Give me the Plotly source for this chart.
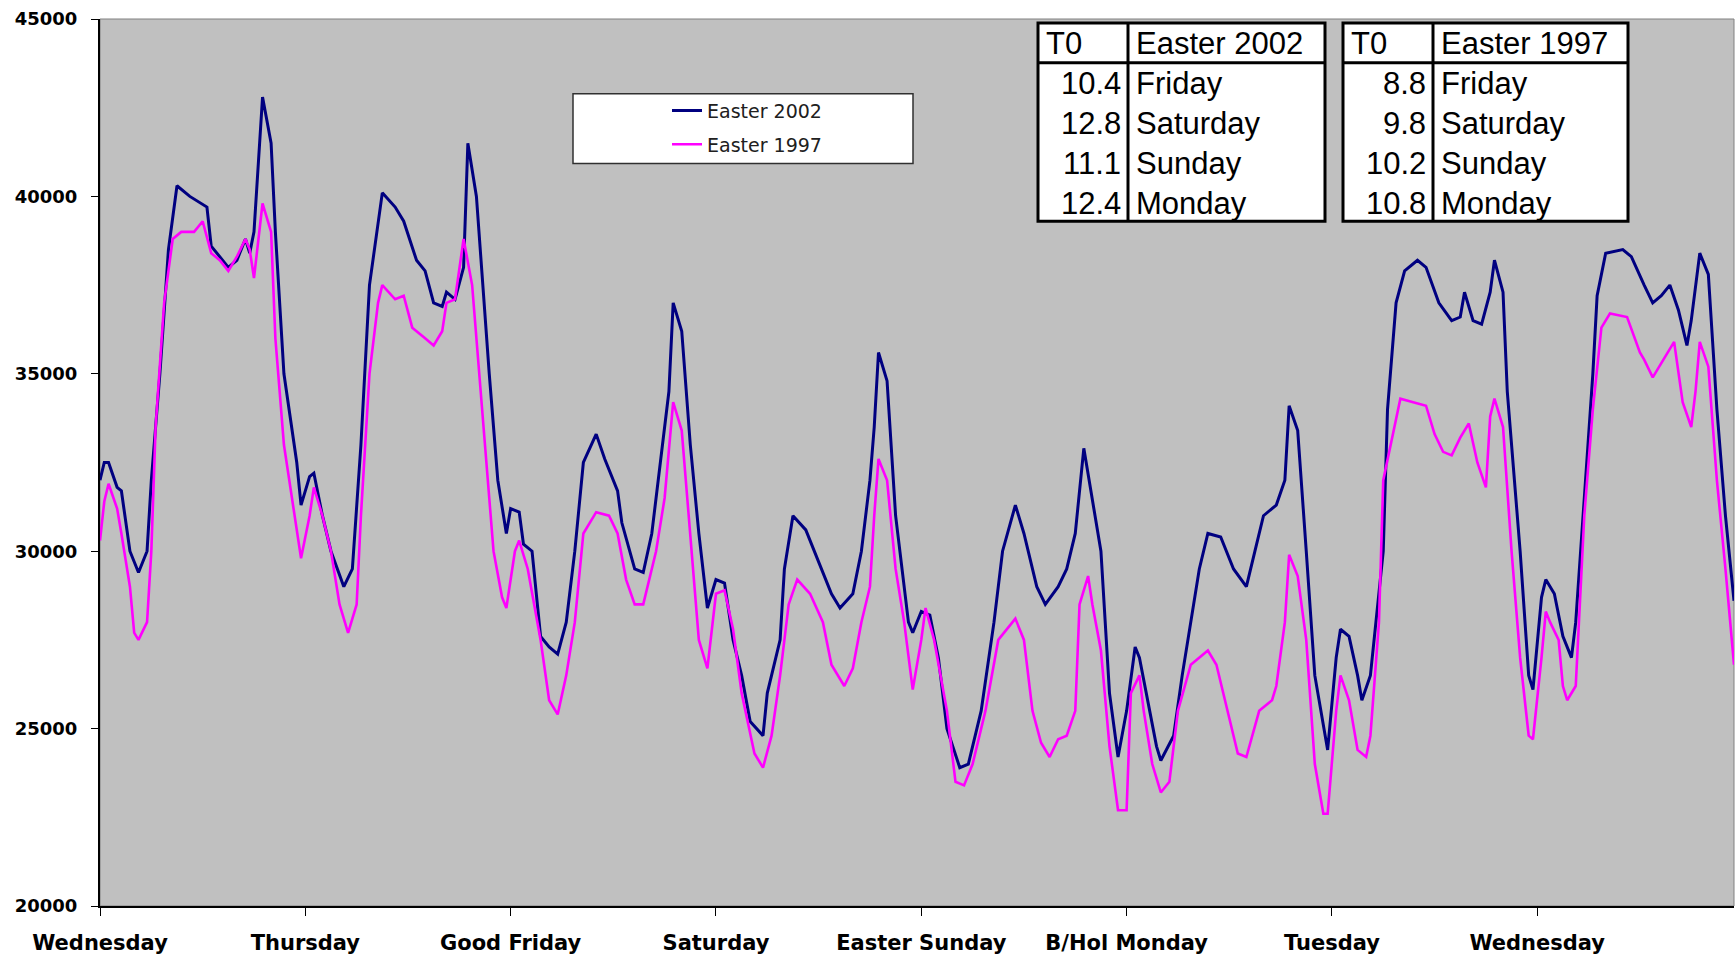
import plotly.graph_objects as go

# ---------------- data ----------------
day_labels = ["Wednesday", "Thursday", "Good Friday", "Saturday",
              "Easter Sunday", "B/Hol Monday", "Tuesday", "Wednesday"]
day_ticks_hours = [0, 24, 48, 72, 96, 120, 144, 168]

hours_2002 = [
    0, 0.5, 1, 2, 2.5, 3.5, 4.5, 5.5, 6, 7,
    8, 9, 10.5, 12.5, 13, 14, 15, 16, 17, 17.5,
    18, 19, 20, 20.5, 21.5, 23, 23.5, 24.5, 25, 26,
    27, 28.5, 29.5, 30.5, 31.5, 33, 34.5, 35.5, 37, 38,
    39, 40, 40.5, 41.5, 42.5, 43, 44, 45.5, 46.5, 47.5,
    48, 49, 49.5, 50.5, 51.5, 52.5, 53.5, 54.5, 55.5, 56.5,
    58, 59, 60.5, 61, 62.5, 63.5, 64.5, 65.5, 66.5, 67,
    68, 69, 70, 71, 72, 73, 74, 75, 76, 77.5,
    78, 79.5, 80, 81, 82.5, 84, 85.5, 86.5, 88, 89,
    90, 90.5, 91, 92, 93, 94.5, 95, 96, 97, 98,
    99, 100.5, 101.5, 103, 104.5, 105.5, 107, 108, 109.5, 110.5,
    112, 113, 114, 115, 115.5, 117, 118, 119, 120, 121,
    121.5, 122.5, 123.5, 124, 125.5, 126.5, 128.5, 129.5, 131, 132.5,
    134, 135, 136, 137.5, 138.5, 139, 140, 141, 142, 143.5,
    144.5, 145, 146, 147, 147.5, 148.5, 150, 150.5, 151.5, 152.5,
    154, 155, 156.5, 158, 159, 159.5, 160.5, 161.5, 162.5, 163,
    164, 164.5, 166, 167, 167.5, 168.5, 169, 170, 171, 172,
    172.5, 173.5, 174.5, 175, 176, 178, 179, 180.5, 181.5, 182.5,
    183.5, 184.5, 185.5, 186, 187, 188, 189, 190, 191,
]
demand_2002 = [
    32000, 32500, 32500, 31800, 31700, 30000, 29400, 30000, 32000, 35000,
    38500, 40300, 40000, 39700, 38600, 38300, 38000, 38200, 38800, 38400,
    39000, 42800, 41500, 39000, 35000, 32500, 31300, 32100, 32200, 31000,
    30000, 29000, 29500, 33000, 37500, 40100, 39700, 39300, 38200, 37900,
    37000, 36900, 37300, 37100, 38000, 41500, 40000, 35000, 32000, 30500,
    31200, 31100, 30200, 30000, 27600, 27300, 27100, 28000, 30000, 32500,
    33300, 32600, 31700, 30800, 29500, 29400, 30500, 32500, 34500, 37000,
    36200, 33000, 30500, 28400, 29200, 29100, 27500, 26500, 25200, 24800,
    26000, 27500, 29500, 31000, 30600, 29700, 28800, 28400, 28800, 30000,
    32000, 33500, 35600, 34800, 31000, 28000, 27700, 28300, 28200, 27000,
    25000, 23900, 24000, 25500, 28000, 30000, 31300, 30500, 29000, 28500,
    29000, 29500, 30500, 32900, 32200, 30000, 26000, 24200, 25500, 27300,
    27000, 25800, 24500, 24100, 24800, 26500, 29500, 30500, 30400, 29500,
    29000, 30000, 31000, 31300, 32000, 34100, 33400, 30000, 26500, 24400,
    27000, 27800, 27600, 26500, 25800, 26500, 30000, 34000, 37000, 37900,
    38200, 38000, 37000, 36500, 36600, 37300, 36500, 36400, 37300, 38200,
    37300, 34500, 30000, 26500, 26100, 28700, 29200, 28800, 27600, 27000,
    28000, 31500, 35000, 37200, 38400, 38500, 38300, 37500, 37000, 37200,
    37500, 36800, 35800, 36500, 38400, 37800, 34000, 31000, 28600,
]

hours_1997 = [
    0, 0.5, 1, 2, 2.5, 3.5, 4, 4.5, 5.5, 6,
    6.5, 7.5, 8.5, 9.5, 11, 12, 13, 14, 15, 16,
    17, 17.5, 18, 19, 20, 20.5, 21.5, 23, 23.5, 24.5,
    25, 26, 27, 28, 29, 30, 30.5, 31.5, 32.5, 33,
    34.5, 35.5, 36.5, 38, 39, 40, 40.5, 41.5, 42.5, 43.5,
    44.5, 46, 47, 47.5, 48.5, 49, 50, 50.5, 51.5, 52.5,
    53.5, 54.5, 55.5, 56.5, 58, 59.5, 60.5, 61.5, 62.5, 63.5,
    65, 66, 67, 68, 69, 70, 71, 72, 73, 74,
    75, 76.5, 77.5, 78.5, 79.5, 80.5, 81.5, 83, 84.5, 85.5,
    87, 88, 89, 90, 90.5, 91, 92, 93, 94, 95,
    96, 96.5, 97.5, 99, 100, 101, 102, 103.5, 105, 107,
    108, 109, 110, 111, 112, 113, 114, 114.5, 115.5, 116,
    117, 118, 119, 120, 120.5, 121.5, 122, 123, 124, 125,
    126, 127.5, 129.5, 130.5, 132, 133, 134, 135.5, 137, 137.5,
    138.5, 139, 140, 141, 142, 143, 143.5, 144.5, 145, 146,
    147, 148, 148.5, 149.5, 150, 151.5, 152, 153.5, 155, 156,
    157, 158, 159, 160, 161, 162, 162.5, 163, 164, 165,
    166, 167, 167.5, 168.5, 169, 169.5, 170.5, 171, 171.5, 172.5,
    173.5, 174.5, 175.5, 176.5, 178.5, 180, 180.5, 181.5, 183, 184,
    185, 186, 186.5, 187, 188, 189, 190, 191,
]
demand_1997 = [
    30300, 31400, 31900, 31200, 30500, 29000, 27700, 27500, 28000, 30000,
    33500, 37000, 38800, 39000, 39000, 39300, 38400, 38200, 37900, 38300,
    38800, 38500, 37700, 39800, 39000, 36000, 33000, 30500, 29800, 31000,
    31800, 31000, 30000, 28500, 27700, 28500, 31000, 35000, 37000, 37500,
    37100, 37200, 36300, 36000, 35800, 36200, 37000, 37100, 38800, 37500,
    34500, 30000, 28700, 28400, 30000, 30300, 29500, 28800, 27500, 25800,
    25400, 26500, 28000, 30500, 31100, 31000, 30500, 29200, 28500, 28500,
    30000, 31500, 34200, 33400, 30500, 27500, 26700, 28800, 28900, 27800,
    26000, 24300, 23900, 24800, 26500, 28500, 29200, 28800, 28000, 26800,
    26200, 26700, 28000, 29000, 31000, 32600, 32000, 29500, 28000, 26100,
    27500, 28400, 27500, 25500, 23500, 23400, 24000, 25500, 27500, 28100,
    27500, 25500, 24600, 24200, 24700, 24800, 25500, 28500, 29300, 28500,
    27200, 24500, 22700, 22700, 26000, 26500, 25500, 24000, 23200, 23500,
    25500, 26800, 27200, 26800, 25300, 24300, 24200, 25500, 25800, 26200,
    28000, 29900, 29300, 27500, 24000, 22600, 22600, 25500, 26500, 25800,
    24400, 24200, 24800, 28000, 32000, 33800, 34300, 34200, 34100, 33300,
    32800, 32700, 33200, 33600, 32500, 31800, 33800, 34300, 33500, 30000,
    27000, 24800, 24700, 27000, 28300, 28000, 27500, 26200, 25800, 26200,
    31000, 34000, 36300, 36700, 36600, 35600, 35400, 34900, 35500, 35900,
    34200, 33500, 34500, 35900, 35200, 32000, 29500, 26800,
]

table_days = ["Friday", "Saturday", "Sunday", "Monday"]
t0_2002 = ["10.4", "12.8", "11.1", "12.4"]
t0_1997 = ["8.8", "9.8", "10.2", "10.8"]

# ---------------- layout helpers ----------------
W, H = 1736, 957
ML, MR, MT, MB = 100, 2, 19, 48
PW, PH = W - ML - MR, H - MT - MB


def X(px):
    return (px - ML) / PW


def Y(py):
    return (H - MB - py) / PH


fig = go.Figure()
fig.add_trace(go.Scatter(x=hours_2002, y=demand_2002, mode="lines",
                         name="Easter 2002", legendgroup="a",
                         line=dict(color="#000080", width=3)))
fig.add_trace(go.Scatter(x=hours_1997, y=demand_1997, mode="lines",
                         name="Easter 1997", legendgroup="b",
                         line=dict(color="#FF00FF", width=2.6)))

shapes = []
annotations = []

# plot-area border
shapes.append(dict(type="rect", xref="paper", yref="paper", x0=0, x1=1, y0=0, y1=1,
                   line=dict(color="#808080", width=1), layer="below"))

# legend box
shapes.append(dict(type="rect", xref="paper", yref="paper",
                   x0=X(573), x1=X(913), y0=Y(164), y1=Y(94),
                   line=dict(color="#303030", width=1.5), fillcolor="white", layer="above"))


def add_table(left, right, coldiv, title, values):
    top, bottom, hline = 23, 222, 63
    shapes.append(dict(type="rect", xref="paper", yref="paper",
                       x0=X(left), x1=X(right), y0=Y(bottom), y1=Y(top),
                       line=dict(color="black", width=3), fillcolor="white", layer="above"))
    shapes.append(dict(type="line", xref="paper", yref="paper",
                       x0=X(coldiv), x1=X(coldiv), y0=Y(bottom), y1=Y(top),
                       line=dict(color="black", width=3), layer="above"))
    shapes.append(dict(type="line", xref="paper", yref="paper",
                       x0=X(left), x1=X(right), y0=Y(hline), y1=Y(hline),
                       line=dict(color="black", width=3), layer="above"))
    f = dict(family="Liberation Sans, Arial", size=31, color="black")
    rows = [44, 84, 124, 164, 204]
    annotations.append(dict(xref="paper", yref="paper", x=X(left + 6), y=Y(rows[0]),
                            text="T0", showarrow=False, xanchor="left", yanchor="middle", font=f))
    annotations.append(dict(xref="paper", yref="paper", x=X(coldiv + 6), y=Y(rows[0]),
                            text=title, showarrow=False, xanchor="left", yanchor="middle", font=f))
    for i, (v, d) in enumerate(zip(values, table_days)):
        annotations.append(dict(xref="paper", yref="paper", x=X(coldiv - 5), y=Y(rows[i + 1]),
                                text=v, showarrow=False, xanchor="right", yanchor="middle", font=f))
        annotations.append(dict(xref="paper", yref="paper", x=X(coldiv + 6), y=Y(rows[i + 1]),
                                text=d, showarrow=False, xanchor="left", yanchor="middle", font=f))


add_table(1038, 1325, 1128, "Easter 2002", t0_2002)
add_table(1343, 1628, 1433, "Easter 1997", t0_1997)

fig.update_layout(
    width=W, height=H,
    margin=dict(l=ML, r=MR, t=MT, b=MB),
    paper_bgcolor="white",
    plot_bgcolor="#C0C0C0",
    showlegend=True,
    legend=dict(x=X(667), y=Y(92), xanchor="left", yanchor="top",
                bgcolor="rgba(0,0,0,0)", borderwidth=0,
                font=dict(family="DejaVu Sans", size=19, color="#202020"),
                traceorder="grouped", tracegroupgap=6),
    shapes=shapes,
    annotations=annotations,
    xaxis=dict(range=[0, 191], tickmode="array", tickvals=day_ticks_hours,
               ticktext=day_labels, showgrid=False, zeroline=False,
               showline=True, linecolor="black", linewidth=2,
               ticks="outside", ticklen=8, tickcolor="black", tickwidth=1,
               ticklabelstandoff=9,
               tickfont=dict(family="DejaVu Sans", size=21, color="black", weight="bold")),
    yaxis=dict(range=[20000, 45000], dtick=5000, tick0=20000, tickformat="d",
               showgrid=False, zeroline=False, showline=True, linecolor="black",
               linewidth=2, ticks="outside", ticklen=7, tickcolor="black", tickwidth=1,
               ticklabelstandoff=10,
               tickfont=dict(family="DejaVu Sans", size=18, color="black", weight="bold")),
)

fig.write_html("out.html",
               config={"displayModeBar": False},
               post_script="document.body.style.margin='0px';"
                           "document.body.style.overflow='hidden';")
